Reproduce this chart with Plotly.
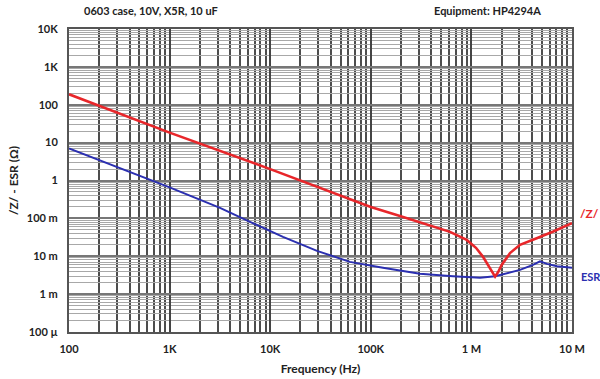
import plotly.graph_objects as go

# |Z| (ohm) vs frequency (Hz)
z_freq = [100, 1000, 10000, 100000, 195e3, 308e3, 415e3, 613e3, 898e3, 1.11e6, 1.30e6, 1.53e6,
          1.62e6, 1.72e6, 1.85e6, 2.0e6, 2.42e6, 3.04e6, 4.46e6, 6.52e6, 1.0e7]
z_vals = [189, 18.4, 2.0, 0.199, 0.116, 0.078, 0.063, 0.044, 0.027, 0.0167, 0.0098, 0.0049,
          0.0039, 0.0029, 0.0039, 0.0059, 0.0121, 0.020, 0.030, 0.045, 0.0747]

# ESR (ohm) vs frequency (Hz)
esr_freq = [100, 321, 1000, 1524, 3170, 6300, 13400, 29200, 62000, 132e3, 182e3, 308e3, 656e3,
            1.22e6, 1.72e6, 2.26e6, 3.04e6, 4.09e6, 4.81e6, 5.64e6, 7.09e6, 1.0e7]
esr_vals = [7.03, 2.15, 0.658, 0.417, 0.189, 0.081, 0.0325, 0.0139, 0.0071, 0.00494, 0.00437,
            0.00343, 0.00295, 0.00269, 0.00295, 0.00354, 0.00437, 0.00593, 0.00733, 0.0063,
            0.00542, 0.00494]

x_tickvals = [100, 1e3, 1e4, 1e5, 1e6, 1e7]
x_ticktext = ["100", "1K", "10K", "100K", "1 M", "10 M"]
y_tickvals = [1e-4, 1e-3, 1e-2, 1e-1, 1, 10, 100, 1e3, 1e4]
y_ticktext = ["100 µ", "1 m", "10 m", "100 m", "1", "10", "100", "1K", "10K"]

FONT = "Lato"
RED = "#e8262a"
BLUE = "#2b2fb0"

ML, MT, MR, MB = 69, 29, 28, 47
PW, PH = 600 - ML - MR, 379 - MT - MB   # plot area size


def px(x):  # page x -> paper coordinate
    return (x - ML) / PW


def py(y):  # page y -> paper coordinate
    return 1 - (y - MT) / PH


fig = go.Figure()
fig.add_trace(go.Scatter(x=esr_freq, y=esr_vals, mode="lines",
                         line=dict(color=BLUE, width=2), showlegend=False))
fig.add_trace(go.Scatter(x=z_freq, y=z_vals, mode="lines",
                         line=dict(color=RED, width=2.6), showlegend=False))

fig.update_layout(
    width=600, height=379,
    margin=dict(l=ML, r=MR, t=MT, b=MB, autoexpand=False),
    paper_bgcolor="white", plot_bgcolor="white",
    font=dict(family=FONT, size=11, color="#222"),
    xaxis=dict(
        type="log", range=[2, 7], automargin=False,
        tickvals=x_tickvals, ticktext=x_ticktext,
        tickfont=dict(family=FONT, size=11, color="#222", weight="bold"),
        showgrid=True, gridcolor="#444", gridwidth=1.5,
        minor=dict(dtick="D1", showgrid=True, gridcolor="#4d4d4d", gridwidth=1.5),
        showline=True, linecolor="#555", linewidth=2, mirror=True,
        ticks="", ticklabelstandoff=6, zeroline=False,
        title=dict(text="<b>Frequency (Hz)</b>", font=dict(family=FONT, size=12, color="#222"),
                   standoff=10),
    ),
    yaxis=dict(
        type="log", range=[-4, 4], automargin=False,
        tickvals=y_tickvals, ticktext=y_ticktext,
        tickfont=dict(family=FONT, size=11, color="#222", weight="bold"),
        showgrid=True, gridcolor="#777", gridwidth=1.5,
        minor=dict(dtick="D1", showgrid=True, gridcolor="#a8a8a8", gridwidth=1.3),
        showline=True, linecolor="#555", linewidth=2, mirror=True,
        ticks="", ticklabelstandoff=7, zeroline=False,
        title=dict(text="<b>/Z/ - ESR (Ω)</b>", font=dict(family=FONT, size=12, color="#222"),
                   standoff=6),
    ),
    annotations=[
        dict(text="<b>0603 case, 10V, X5R, 10 uF</b>", xref="paper", yref="paper",
             x=px(82), y=py(11), xanchor="left", yanchor="middle",
             showarrow=False, font=dict(family=FONT, size=11, color="#222")),
        dict(text="<b>Equipment: HP4294A</b>", xref="paper", yref="paper",
             x=px(432), y=py(11), xanchor="left", yanchor="middle",
             showarrow=False, font=dict(family=FONT, size=11, color="#222")),
        dict(text="<b>/Z/</b>", xref="paper", yref="paper",
             x=px(578), y=py(214), xanchor="left", yanchor="middle",
             showarrow=False, font=dict(family=FONT, size=12, color=RED)),
        dict(text="<b>ESR</b>", xref="paper", yref="paper",
             x=px(579), y=py(276), xanchor="left", yanchor="middle",
             showarrow=False, font=dict(family=FONT, size=11, color=BLUE)),
    ],
)

fig.write_html("out.html",
               config={"displayModeBar": False},
               post_script="document.body.style.margin='0px';"
                           "document.body.style.overflow='hidden';")
